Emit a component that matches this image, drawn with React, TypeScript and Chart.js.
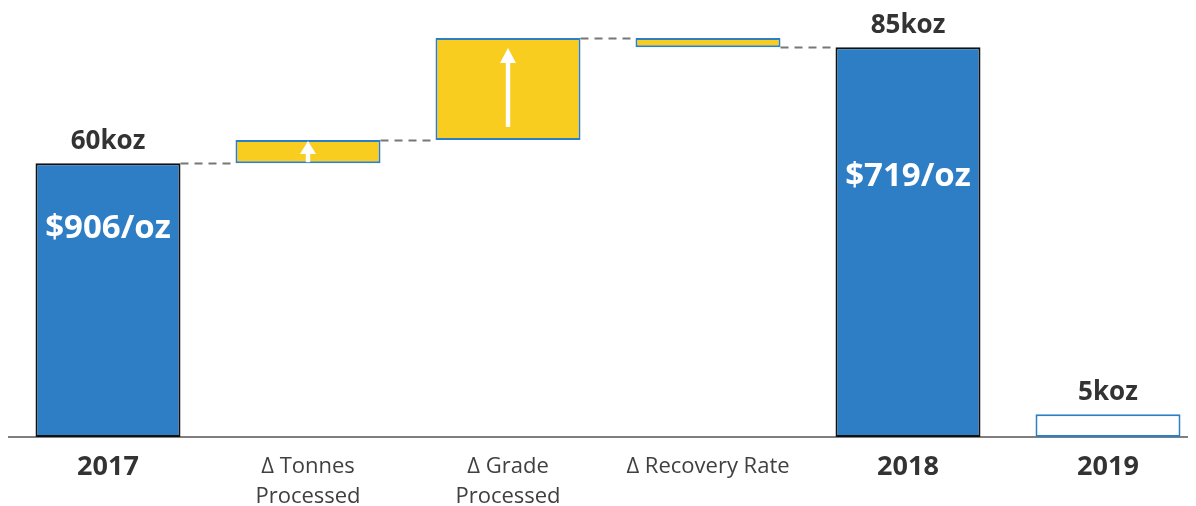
import { useEffect, useRef } from "react";
import { Chart, registerables } from "chart.js";

Chart.register(...registerables);

const categories: (string | string[])[] = [
  "2017",
  ["Δ Tonnes", "Processed"],
  ["Δ Grade", "Processed"],
  "Δ Recovery Rate",
  "2018",
  "2019",
];
const barStart = [0, 60, 65.1, 87.4, 0, 0];
const barEnd = [60, 65.1, 87.4, 85.4, 85.4, 5];
const topLabels = ["60koz", "", "", "", "85koz", "5koz"];
const innerLabels = ["$906/oz", "", "", "", "$719/oz", ""];
const arrowUp = [false, true, true, false, false, false];
const connectNext = [true, true, true, true, false, false];
const boldTick = [true, false, false, false, true, true];

const BLUE = "#2E7EC6";
const YELLOW = "#F9CD1F";
const fillColors = [BLUE, YELLOW, YELLOW, YELLOW, BLUE, "#FFFFFF"];
const borderColors = ["#111111", BLUE, BLUE, BLUE, "#111111", BLUE];
const innerOffsets = [65, 0, 0, 0, 129, 0];

const overlayPlugin = {
  id: "waterfallOverlay",
  afterDatasetsDraw(chart: any) {
    const ctx = chart.ctx;
    const meta = chart.getDatasetMeta(0);
    const y = chart.scales.y;
    ctx.save();
    // connectors
    ctx.strokeStyle = "#777777";
    ctx.lineWidth = 2;
    ctx.setLineDash([8, 6]);
    meta.data.forEach((bar: any, i: number) => {
      if (!connectNext[i]) return;
      const next = meta.data[i + 1];
      const yy = Math.round(y.getPixelForValue(barEnd[i])) + 0.5;
      const x1 = bar.x + bar.width / 2;
      const x2 = next.x - next.width / 2;
      ctx.beginPath();
      ctx.moveTo(x1, yy);
      ctx.lineTo(x2, yy);
      ctx.stroke();
    });
    ctx.setLineDash([]);
    // arrows
    meta.data.forEach((bar: any, i: number) => {
      if (!arrowUp[i]) return;
      const top = y.getPixelForValue(Math.max(barStart[i], barEnd[i]));
      const bottom = y.getPixelForValue(Math.min(barStart[i], barEnd[i]));
      const h = bottom - top;
      const big = h > 50;
      const yTop = top + (big ? 10 : 1);
      const yBot = bottom - (big ? 13 : 1);
      const headH = big ? 15 : 13;
      const headW = 16;
      ctx.fillStyle = "#FFFFFF";
      ctx.fillRect(bar.x - 2.2, yTop + headH - 1, 4.4, yBot - yTop - headH + 1);
      ctx.beginPath();
      ctx.moveTo(bar.x, yTop);
      ctx.lineTo(bar.x + headW / 2, yTop + headH);
      ctx.lineTo(bar.x - headW / 2, yTop + headH);
      ctx.closePath();
      ctx.fill();
    });
    // labels
    ctx.textAlign = "center";
    ctx.textBaseline = "middle";
    meta.data.forEach((bar: any, i: number) => {
      const top = y.getPixelForValue(Math.max(barStart[i], barEnd[i]));
      if (topLabels[i]) {
        ctx.fillStyle = "#333333";
        ctx.font = "bold 26px 'Open Sans'";
        ctx.fillText(topLabels[i], bar.x, top - 22);
      }
      if (innerLabels[i]) {
        ctx.fillStyle = "#FFFFFF";
        ctx.font = "bold 33px 'Open Sans'";
        ctx.fillText(innerLabels[i], bar.x, top + innerOffsets[i]);
      }
    });
    ctx.restore();
  },
};

export default function App() {
  const ref = useRef<HTMLCanvasElement>(null);
  useEffect(() => {
    if (!ref.current) return;
    const chart = new Chart(ref.current, {
      type: "bar",
      data: {
        labels: categories,
        datasets: [
          {
            data: barStart.map((s, i) => [s, barEnd[i]]) as any,
            backgroundColor: fillColors,
            borderColor: borderColors,
            borderWidth: 2,
            borderSkipped: false,
            barPercentage: 1,
            categoryPercentage: 0.725,
          },
        ],
      },
      options: {
        responsive: false,
        animation: false,
        devicePixelRatio: 1,
        layout: { padding: 0 },
        plugins: { legend: { display: false }, tooltip: { enabled: false } },
        scales: {
          x: {
            grid: { display: false, drawTicks: false },
            border: { display: true, color: "#7F7F7F", width: 2 },
            afterFit: (scale: any) => {
              scale.height = 69;
            },
            ticks: {
              padding: 15,
              maxRotation: 0,
              autoSkip: false,
              color: (c: any) => (boldTick[c.index] ? "#333333" : "#404040"),
              font: (c: any) =>
                boldTick[c.index]
                  ? { family: "'Open Sans'", size: 27, weight: "bold", lineHeight: 30 / 27 }
                  : { family: "'Open Sans'", size: 22, weight: "normal", lineHeight: 30 / 22 },
            },
          },
          y: { display: false, min: 0, max: 94 },
        },
      },
      plugins: [overlayPlugin],
    } as any);
    return () => chart.destroy();
  }, []);
  return (
    <div style={{ width: 1180, height: 498, overflow: "hidden" }}>
      <canvas ref={ref} width={1200} height={498} style={{ display: "block" }} />
    </div>
  );
}
